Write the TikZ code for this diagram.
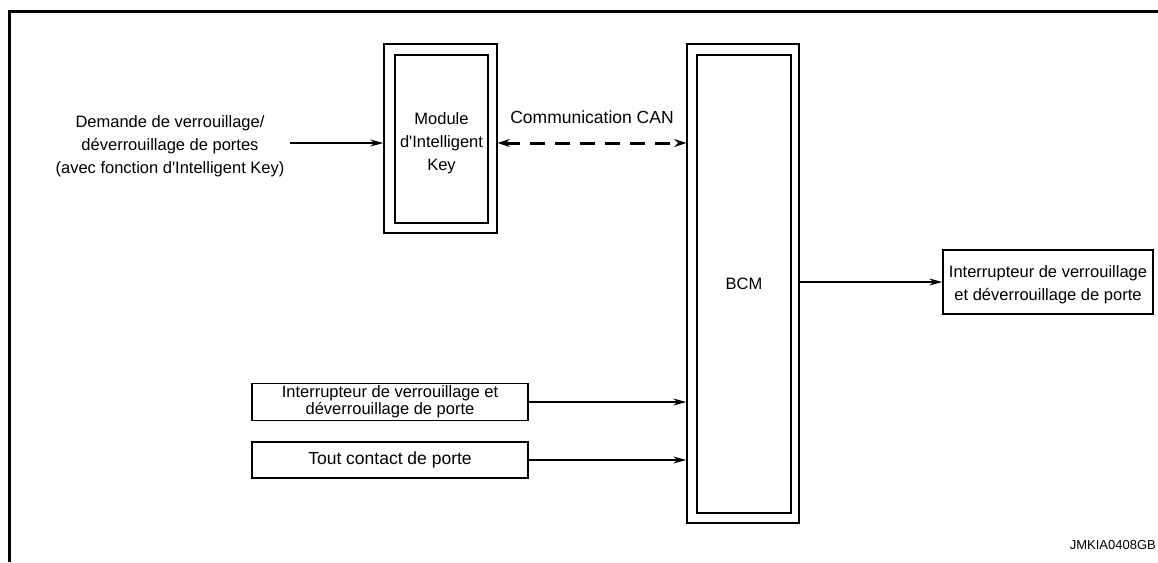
\documentclass[tikz,border=0pt]{standalone}
\usepackage{fontspec}
\setmainfont{Liberation Sans}
\usetikzlibrary{arrows.meta}
\begin{document}
\begin{tikzpicture}[x=1pt,y=-1pt,
    box/.style={draw,line width=1.4pt,inner sep=0pt,align=center},
    arr/.style={line width=1.5pt,-{Stealth[length=13pt,width=7pt]}},
    txt/.style={font=\fontsize{16.5}{23}\selectfont}]
      \useasboundingbox (0,0) rectangle (1158,562);
      \draw[line width=3pt] (9,562) -- (9,11) -- (1158,11);
      % double boxes
      \node[box,minimum width=113pt,minimum height=189pt] (modo) at (440.5,138.5) {};
      \node[box,minimum width=93pt,minimum height=168pt] (mod) at (441.5,139) {};
      \node[txt,align=center] (modtxt) at (441.5,143.5) {Module\\d\textquotesingle Intelligent\\Key};
      \node[box,minimum width=112pt,minimum height=479pt] (bcmo) at (743,283.5) {};
      \node[box,txt,minimum width=94pt,minimum height=458pt] (bcm) at (744,284) {BCM};
      % inputs and outputs
      \coordinate (can) at (0,143);
      \node[txt,align=center,inner sep=5pt] (dem) at (170,146) {Demande de verrouillage/\\d\'everrouillage de portes\\(avec fonction d\textquotesingle Intelligent Key)};
      \node[box,minimum width=210pt,minimum height=64pt] (sortie) at (1048,282) {};
      \node[txt,align=center] (sortietxt) at (1048,285) {Interrupteur de verrouillage\\et d\'everrouillage de porte};
      \node[box,font=\fontsize{16.5}{17}\selectfont,minimum width=276pt,minimum height=37pt] (inter) at (390,402) {Interrupteur de verrouillage et\\d\'everrouillage de porte};
      \node[box,font=\fontsize{17.5}{21}\selectfont,minimum width=276pt,minimum height=36pt] (tout) at (390,460) {Tout contact de porte};
      \draw[arr] (dem.east |- can) -- (modo.west |- can);
      \draw[line width=3pt,dash pattern=on 15pt off 10pt,{Stealth[length=12pt,width=8pt]}-{Stealth[length=12pt,width=8pt]}] (modo.east |- can) -- (bcmo.west |- can) node[midway,above=14pt,font=\fontsize{17.5}{21}\selectfont] {Communication CAN};
      \draw[arr] (bcmo.east |- sortie.west) -- (sortie.west);
      \draw[arr] (inter.east) -- (bcmo.west |- inter.east);
      \draw[arr] (tout.east) -- (bcmo.west |- tout.east);
      \node[font=\fontsize{13}{15}\selectfont,anchor=east,inner sep=1pt] (ref) at (1157,545) {JMKIA0408GB};
\end{tikzpicture}
\end{document}
